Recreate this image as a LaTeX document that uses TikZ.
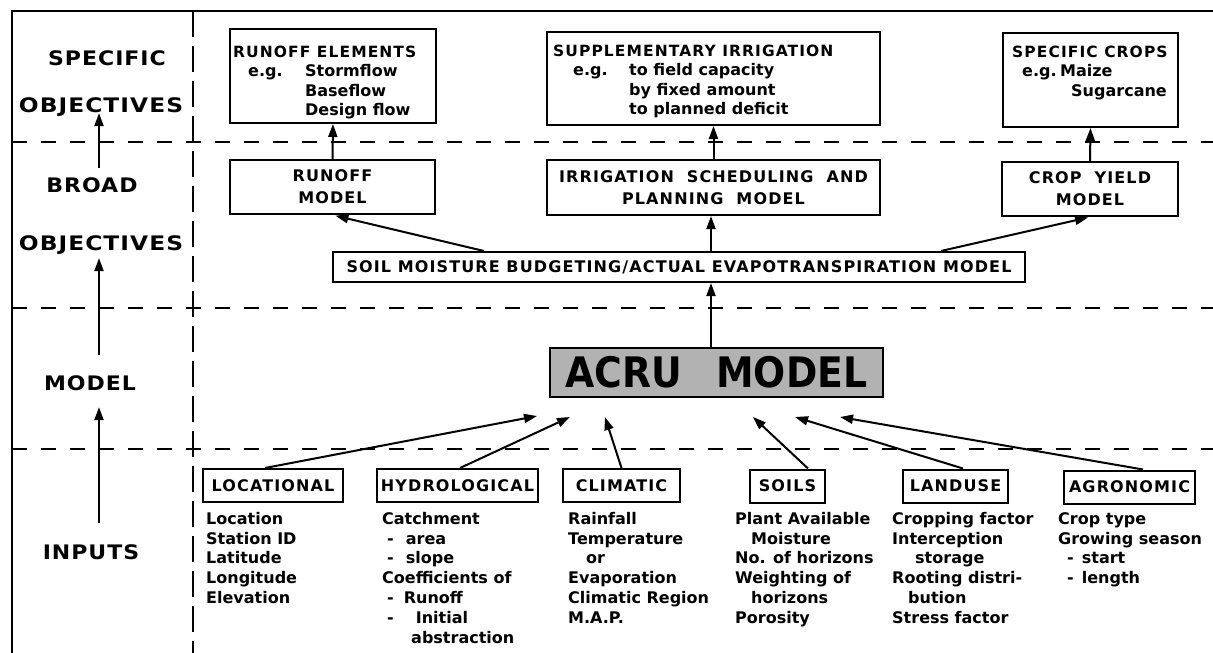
\documentclass[tikz,border=0pt]{standalone}
\usepackage{fontspec}
\setmainfont{DejaVu Sans}
\newfontfamily\bodyf{DejaVu Sans Bold}
\newfontfamily\capsf[LetterSpace=7]{DejaVu Sans Bold}
\newfontfamily\headf[FakeStretch=1.1,LetterSpace=5]{DejaVu Sans Bold}
\newfontfamily\bigf[FakeStretch=0.9]{DejaVu Sans Bold}
\usetikzlibrary{arrows.meta}
\newcommand\wsp{\hspace{13pt}}
\newcommand\objtext{\scalebox{1.06}[1]{OBJECTIVES}}
\newcommand\boxhead{\capsf\fontsize{15.5}{19.5}\selectfont}
\begin{document}
\begin{tikzpicture}[x=1pt,y=-1pt,
  every node/.style={inner sep=0pt},
  box/.style={draw, line width=2pt, inner sep=0pt},
  arr/.style={line width=2pt, -{Triangle[length=13pt,width=9pt]}},
  divider/.style={line width=2pt, dash pattern=on 15pt off 14pt},
  vdivider/.style={line width=2pt, dash pattern=on 26pt off 9pt},
  frame/.style={line width=2pt},
  body/.style={font=\bodyf\fontsize{16}{19.8}\selectfont, align=left, anchor=north west},
  boxbody/.style={font=\bodyf\fontsize{16}{19.5}\selectfont, align=left, anchor=north west},
  head/.style={font=\headf\fontsize{20}{24}\selectfont, text depth=0pt},
  capt/.style={font=\capsf\fontsize{16}{22}\selectfont, align=center},
  inbox/.style={box, capt, minimum height=33pt}
]
\useasboundingbox (0,0) rectangle (1213,653);

% frame and dividers
\draw[frame] (12,653) -- (12,11) -- (1213,11);
\draw[vdivider] (193,11) -- (193,653);
\foreach \yy in {142,308,449} \draw[divider] (12,\yy) -- (1213,\yy);

% left headings
\node[head] (hspec) at (107,58.5) {SPECIFIC};
\node[head] (hobj1) at (101,105.5) {\objtext};
\node[head] (hbroad) at (92,185.5) {BROAD};
\node[head] (hobj2) at (101,243.5) {\objtext};
\node[head] (hmodel) at (90,383.5) {MODEL};
\node[head] (hinputs) at (91,552.5) {INPUTS};
\coordinate (lx) at (99,0);
\draw[arr, shorten <=10pt] (hbroad.north -| lx) -- (hobj1.south -| lx);
\draw[arr, shorten <=21pt, shorten >=7pt] (hmodel.north -| lx) -- (hobj2.south -| lx);
\draw[arr, shorten <=22pt, shorten >=16pt] (hinputs.north -| lx) -- (hmodel.south -| lx);

% specific objectives
\node[box, minimum width=206pt, minimum height=94pt] (re) at (333,76) {};
\node[boxbody] (ret) at (233,43.35) {\strut{\boxhead RUNOFF ELEMENTS}\\
\hspace*{15pt}\makebox[57pt][l]{e.g.}Stormflow\\
\hspace*{72pt}Baseflow\\
\hspace*{72pt}Design flow};
\node[box, minimum width=333pt, minimum height=93pt] (si) at (713.5,78.5) {};
\node[boxbody] (sit) at (553,42.35) {\strut{\boxhead SUPPLEMENTARY IRRIGATION}\\
\hspace*{20pt}\makebox[56pt][l]{e.g.}to field capacity\\
\hspace*{76pt}by fixed amount\\
\hspace*{76pt}to planned deficit};
\node[box, minimum width=175pt, minimum height=94pt] (sc) at (1090.5,80) {};
\node[boxbody] (sct) at (1012,43.35) {\strut{\boxhead SPECIFIC CROPS}\\
\hspace*{10pt}\makebox[38pt][l]{e.g.}Maize\\
\hspace*{59pt}Sugarcane};

% broad objectives
\node[box, capt, minimum width=205pt, minimum height=54pt] (rm) at (332.5,187) {RUNOFF\\MODEL};
\node[box, capt, minimum width=333pt, minimum height=55pt] (is) at (713.5,187.5) {IRRIGATION\wsp SCHEDULING\wsp AND\\PLANNING\wsp MODEL};
\node[box, capt, minimum width=176pt, minimum height=54pt] (cy) at (1090,189) {CROP\wsp YIELD\\MODEL};
\node[box, capt, minimum width=692pt, minimum height=30pt] (soil) at (679,267) {SOIL MOISTURE BUDGETING/ACTUAL EVAPOTRANSPIRATION MODEL};

\draw[arr] (rm.north) -- (re.south);
\draw[arr] (is.north) -- (si.south);
\draw[arr] (cy.north) -- (sc.south);
\coordinate (mx) at (711,0);
\draw[arr, shorten >=3pt] ([xshift=152pt]soil.north west) -- (rm.south);
\draw[arr] (soil.north -| mx) -- (is.south -| mx);
\draw[arr, shorten >=2pt] ([xshift=-85pt]soil.north east) -- (cy.south);

% model
\node[box, line width=2.4pt, fill=black!30, minimum width=333pt, minimum height=49pt,
  font=\bigf\fontsize{42}{42}\selectfont] (acru) at (716.5,372.5) {ACRU\hspace{34pt}MODEL};
\draw[arr] (acru.north -| mx) -- (soil.south -| mx);

% inputs
\node[inbox, minimum width=140pt] (loc) at (273,485.5) {LOCATIONAL};
\node[inbox, minimum width=161pt] (hyd) at (457.5,485.5) {HYDROLOGICAL};
\node[inbox, minimum width=117pt] (cli) at (621.5,485.5) {CLIMATIC};
\node[inbox, minimum width=75pt] (soi) at (787.5,486) {SOILS};
\node[inbox, minimum width=105pt] (lan) at (955.5,486) {LANDUSE};
\node[inbox, minimum width=131pt] (agr) at (1129.5,487) {AGRONOMIC};

\coordinate (t1) at (537,416);
\coordinate (t2) at (570,417);
\coordinate (t3) at (605,417);
\coordinate (t4) at (753,417);
\coordinate (t5) at (795,417);
\coordinate (t6) at (840,417);
\draw[arr] ([xshift=-8pt]loc.north) -- (t1);
\draw[arr] ([xshift=2.5pt]hyd.north) -- (t2);
\draw[arr] (cli.north) -- (t3);
\draw[arr] ([xshift=20.5pt]soi.north) -- (t4);
\draw[arr] ([xshift=7.5pt]lan.north) -- (t5);
\draw[arr] ([xshift=13.5pt]agr.north) -- (t6);

\node[body] (loct) at (206,510.14) {\strut Location\\Station ID\\Latitude\\Longitude\\Elevation};
\node[body] (hydt) at (382,510.14) {\strut Catchment\\
\hspace*{5pt}-\hspace{12pt}area\\
\hspace*{5pt}-\hspace{12pt}slope\\
Coefficients of\\
\hspace*{5pt}-\hspace{10pt}Runoff\\
\hspace*{5pt}-\hspace{22pt}Initial\\
\hspace*{29pt}abstraction};
\node[body] (clit) at (568,510.14) {\strut Rainfall\\Temperature\\\hspace*{18pt}or\\Evaporation\\Climatic Region\\M.A.P.};
\node[body] (soit) at (735,510.14) {\strut Plant Available\\\hspace*{16pt}Moisture\\No. of horizons\\Weighting of\\\hspace*{16pt}horizons\\Porosity};
\node[body] (lant) at (892,510.14) {\strut Cropping factor\\Interception\\\hspace*{23pt}storage\\Rooting distri-\\\hspace*{16pt}bution\\Stress factor};
\node[body] (agrt) at (1058,510.14) {\strut Crop type\\Growing season\\
\hspace*{9pt}-\hspace{8pt}start\\
\hspace*{9pt}-\hspace{8pt}length};
\end{tikzpicture}
\end{document}
